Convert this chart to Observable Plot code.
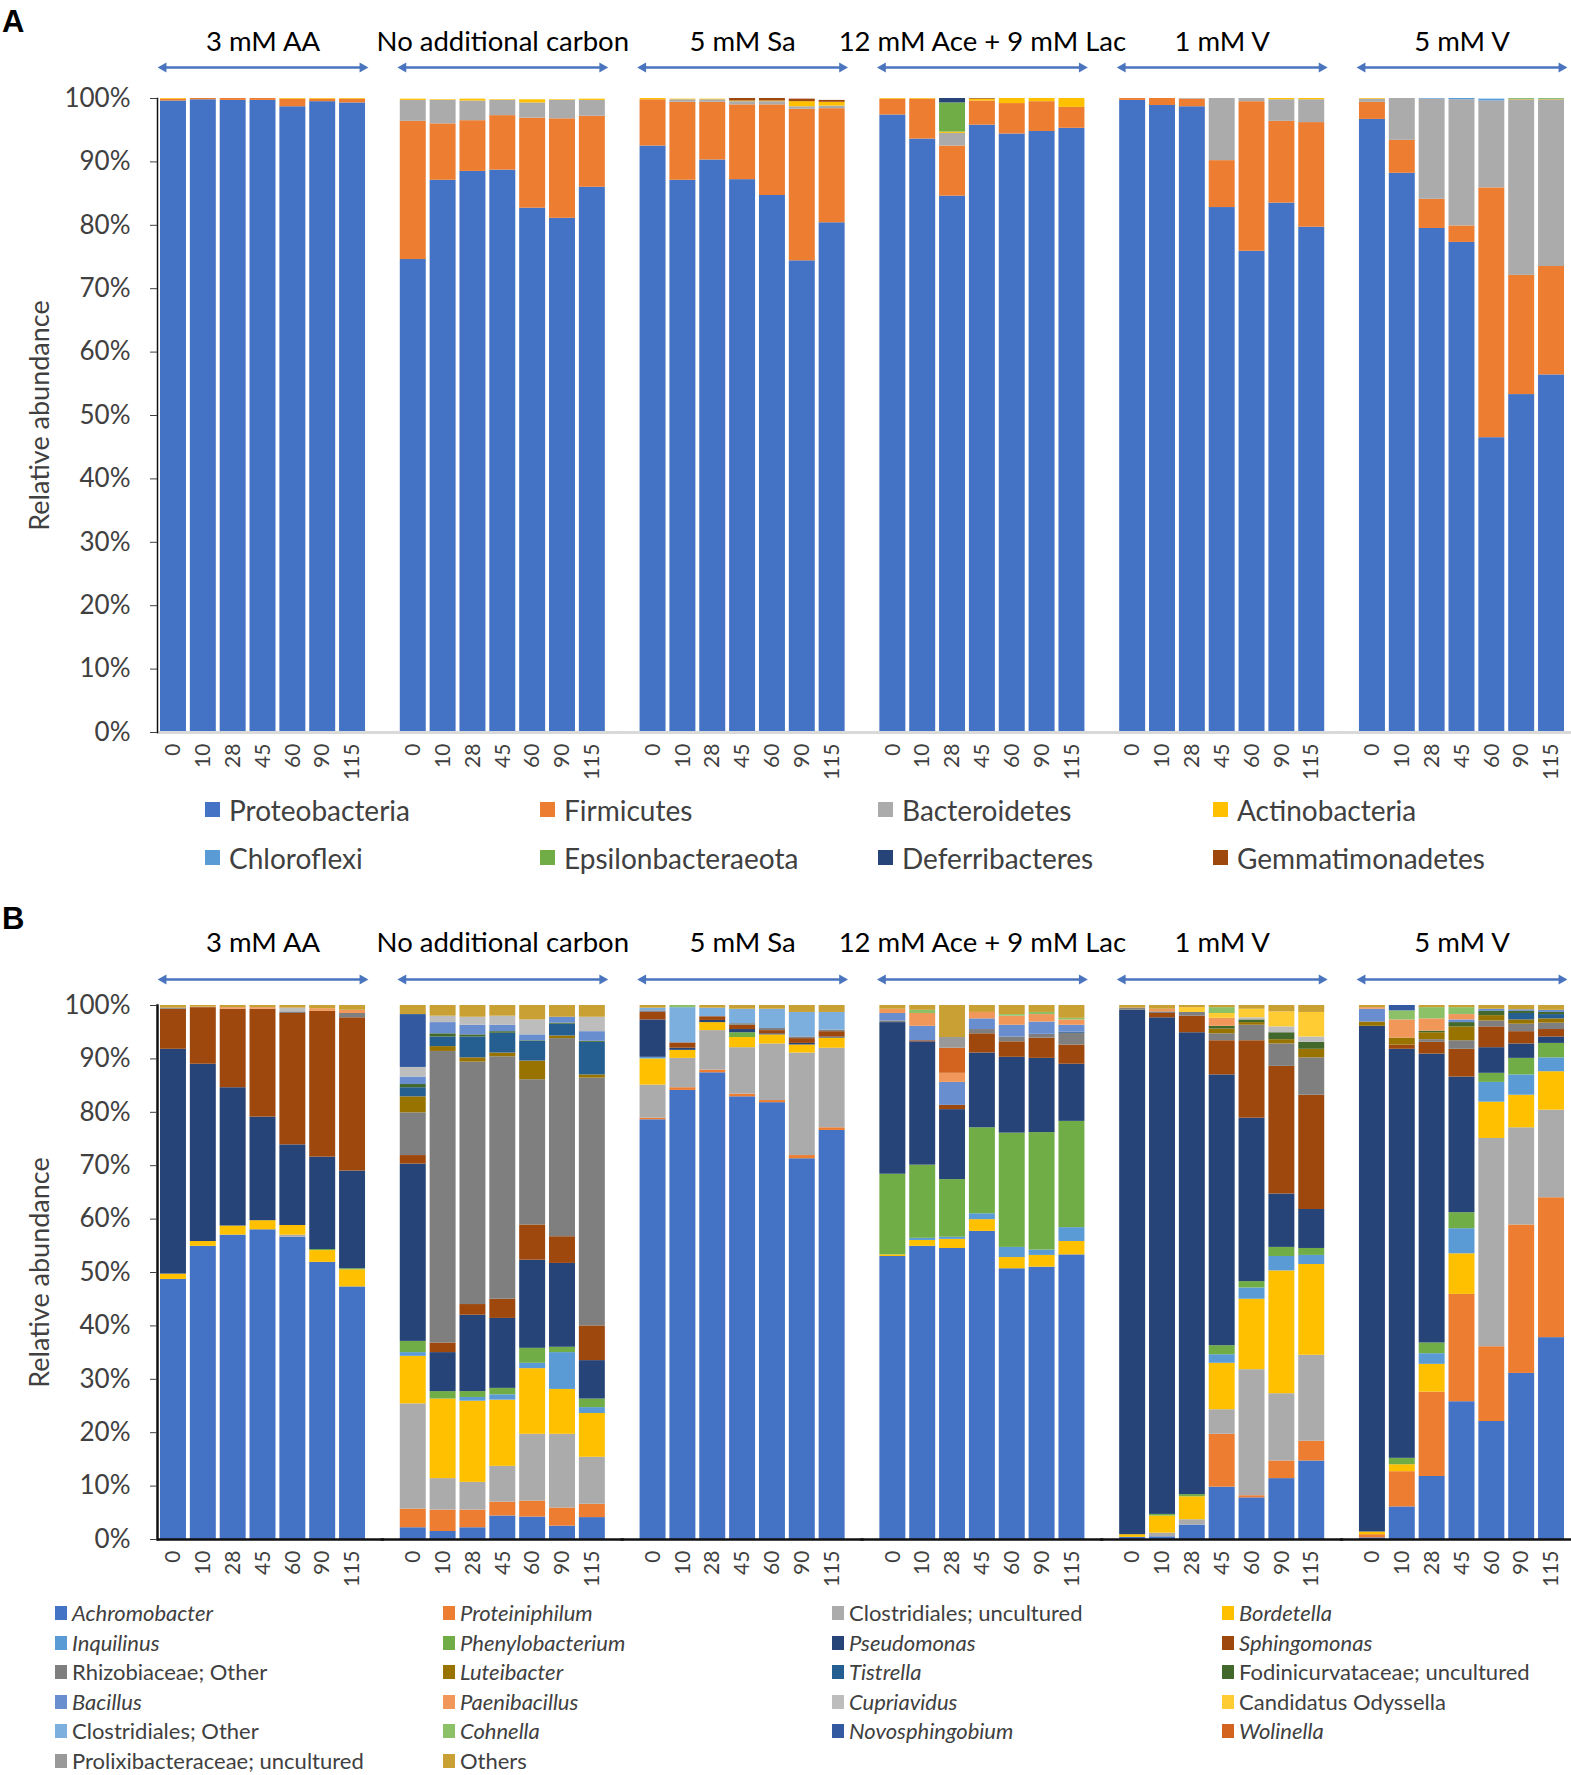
<!DOCTYPE html>
<html><head><meta charset="utf-8">
<script src="https://cdn.jsdelivr.net/npm/d3@7"></script>
<script src="https://cdn.jsdelivr.net/npm/@observablehq/plot@0.6"></script>
<style>
html,body{margin:0;padding:0;background:#fff;overflow:hidden;}
#root{position:relative;width:1571px;height:1775px;font-family:Lato,"Open Sans",sans-serif;}
.abs{position:absolute;left:0;}
.plabel{position:absolute;font-family:"Liberation Sans",Arial,sans-serif;font-weight:bold;font-size:31px;line-height:31px;color:#000;}
.leg{position:absolute;display:flex;align-items:center;white-space:nowrap;color:#404040;}
.sw{display:inline-block;flex:none;}
</style></head><body><div id="root"></div>
<script>
// ---------- shared categories ----------
const groups = ["3 mM AA","No additional carbon","5 mM Sa","12 mM Ace + 9 mM Lac","1 mM V","5 mM V"];
const days = ["0","10","28","45","60","90","115"];
const yTicks = [0,10,20,30,40,50,60,70,80,90,100];

// ---------- Panel A: phylum relative abundance (%), 6 groups x 7 days ----------
const phyla = ["Proteobacteria","Firmicutes","Bacteroidetes","Actinobacteria","Chloroflexi","Epsilonbacteraeota","Deferribacteres","Gemmatimonadetes"];
const proteobacteria = [99.6,99.8,99.7,99.7,98.7,99.5,99.3, 74.6,87.1,88.5,88.7,82.7,81.1,86.0, 92.5,87.1,90.3,87.2,84.7,74.4,80.4, 97.4,93.6,84.6,95.8,94.4,94.8,95.3, 99.7,98.9,98.7,82.8,75.9,83.5,79.7, 96.7,88.2,79.5,77.3,46.5,53.3,56.4];
const firmicutes     = [0.3,0.2,0.3,0.3,1.2,0.4,0.6, 21.8,8.9,8.0,8.6,14.2,15.7,11.2, 7.3,12.3,9.1,11.8,14.3,23.9,18.0, 2.5,6.3,7.9,3.8,4.8,4.7,3.3, 0.3,1.1,1.2,7.4,23.6,12.9,16.5, 2.7,5.2,4.6,2.6,39.4,18.8,17.1];
const bacteroidetes  = [0,0,0,0,0,0,0, 3.3,3.7,3.1,2.4,2.4,2.9,2.5, 0,0.4,0.4,0.5,0.5,0.4,0.4, 0,0,2.0,0,0,0,0, 0,0,0.1,9.8,0.5,3.4,3.6, 0.5,6.6,15.8,19.9,13.7,27.6,26.2];
const actinobacteria = [0.1,0,0,0,0.1,0.1,0.1, 0.2,0.1,0.3,0.1,0.5,0.1,0.2, 0.2,0.1,0.1,0.1,0.1,0.8,0.6, 0.1,0.1,0.2,0.3,0.8,0.5,1.4, 0,0,0,0,0,0.2,0.2, 0.1,0,0,0,0,0.1,0.1];
const chloroflexi    = [0,0,0,0,0,0,0, 0,0,0,0,0,0,0, 0,0,0,0,0,0,0, 0,0,0,0,0,0,0, 0,0,0,0,0,0,0, 0,0,0.1,0.2,0.3,0.1,0.1];
const epsilonbacteraeota = [0,0,0,0,0,0,0, 0,0,0,0,0,0,0, 0,0,0,0,0,0,0, 0,0,4.6,0,0,0,0, 0,0,0,0,0,0,0, 0,0,0,0,0,0.1,0.1];
const deferribacteres = [0,0,0,0,0,0,0, 0,0,0,0,0,0,0, 0,0,0,0,0,0,0, 0,0,0.7,0,0,0,0, 0,0,0,0,0,0,0, 0,0,0,0,0,0,0];
const gemmatimonadetes = [0,0,0,0,0,0,0, 0,0,0,0,0,0,0, 0,0,0,0.4,0.4,0.4,0.3, 0,0,0,0.1,0,0,0, 0,0,0,0,0,0,0, 0,0,0,0,0,0,0];
const phylaValues = [proteobacteria,firmicutes,bacteroidetes,actinobacteria,chloroflexi,epsilonbacteraeota,deferribacteres,gemmatimonadetes];

// ---------- Panel B: genus level, cumulative top of each segment (%) read per bar ----------
const taxaCodes = ["A","Pr","Cu","Bo","In","Ph","Ps","Sp","Rh","Lu","Ti","Fo","Ba","Pa","Cp","Od","Co","Cn","No","Wo","Pl","Ot"];
const taxaNames = ["Achromobacter","Proteiniphilum","Clostridiales; uncultured","Bordetella","Inquilinus","Phenylobacterium","Pseudomonas","Sphingomonas","Rhizobiaceae; Other","Luteibacter","Tistrella","Fodinicurvataceae; uncultured","Bacillus","Paenibacillus","Cupriavidus","Candidatus Odyssella","Clostridiales; Other","Cohnella","Novosphingobium","Wolinella","Prolixibacteraceae; uncultured","Others"];
const cumAA = [
 "A 48.7, Bo 49.7, Ps 91.8, Sp 99.3, Rh 99.5, Ot 100",
 "A 54.9, Bo 55.8, Ps 89.0, Sp 99.6, Pa 99.7, Ot 100",
 "A 57.0, Bo 58.7, Ps 84.6, Sp 99.3, Pa 99.6, Ot 100",
 "A 58.0, Bo 59.7, Ps 79.1, Sp 99.3, Pa 99.6, Ot 100",
 "A 56.6, Cu 57.0, Bo 58.8, Ps 73.9, Sp 98.5, Rh 98.8, Cp 99.5, Ot 100",
 "A 51.9, Bo 54.1, Ph 54.3, Ps 71.6, Sp 98.9, Pa 99.4, Ot 100",
 "A 47.3, Bo 50.5, Ph 50.7, Ps 69.0, Sp 97.7, Rh 98.5, Pa 99.1, Ot 100"];
const cumNAC = [
 "A 2.2, Pr 5.7, Cu 25.4, Bo 34.3, In 35.0, Ph 37.1, Ps 70.3, Sp 71.9, Rh 79.9, Lu 82.9, Ti 84.6, Fo 85.2, Ba 86.6, Cp 88.4, No 98.3, Ot 100",
 "A 1.5, Pr 5.5, Cu 11.4, Bo 26.3, Ph 27.7, Ps 35.0, Sp 36.8, Rh 91.4, Lu 92.3, Ti 94.1, Fo 94.7, Ba 96.8, Cp 98.0, Ot 100",
 "A 2.2, Pr 5.5, Cu 10.7, Bo 25.9, In 26.6, Ph 27.7, Ps 42.0, Sp 44.0, Rh 89.4, Lu 90.2, Ti 94.1, Fo 94.5, Ba 96.3, Cp 97.8, Ot 100",
 "A 4.4, Pr 7.0, Cu 13.7, Bo 26.1, In 27.1, Ph 28.3, Ps 41.4, Sp 45.0, Rh 90.4, Lu 91.1, Ti 94.8, Fo 95.1, Ba 96.3, Cp 98.0, Ot 100",
 "A 4.2, Pr 7.2, Cu 19.7, Bo 32.0, In 33.0, Ph 35.8, Ps 52.3, Sp 58.9, Rh 86.1, Lu 89.6, Ti 93.3, Fo 93.4, Ba 94.5, Cp 97.3, Ot 100",
 "A 2.5, Pr 5.9, Cu 19.7, Bo 28.1, In 35.0, Ph 36.0, Ps 51.7, Sp 56.7, Rh 93.8, Lu 94.3, Ti 96.5, Fo 96.7, Ba 97.8, Ot 100",
 "A 4.1, Pr 6.6, Cu 15.4, Bo 23.6, In 24.7, Ph 26.3, Ps 33.5, Sp 40.0, Rh 86.4, Lu 87.0, Ti 93.1, Fo 93.3, Ba 95.1, Cp 97.8, Ot 100"];
const cumSa = [
 "A 78.6, Pr 78.9, Cu 85.1, Bo 90.0, In 90.3, Ps 97.3, Sp 98.7, Rh 99.0, Co 99.5, Ot 100",
 "A 84.1, Pr 84.6, Cu 90.1, Bo 91.6, Ps 92.0, Sp 93.0, Co 99.6, Cn 100",
 "A 87.4, Pr 87.9, Cu 95.3, Bo 96.8, Ps 97.2, Sp 97.9, Co 99.5, Ot 100",
 "A 82.9, Pr 83.4, Cu 92.1, Bo 94.0, Ph 94.9, Ps 95.5, Sp 96.3, Rh 96.6, Co 99.3, Ot 100",
 "A 81.8, Pr 82.2, Cu 92.8, Bo 94.5, Ps 94.7, Sp 95.3, Rh 95.7, Co 99.3, Ot 100",
 "A 71.3, Pr 71.9, Cu 91.1, Bo 92.6, Ps 92.9, Sp 93.8, Rh 94.1, Co 98.7, Ot 100",
 "A 76.6, Pr 77.1, Cu 92.0, Bo 93.9, Ps 94.1, Sp 95.1, Rh 95.4, Co 98.7, Ot 100"];
const cumAceLac = [
 "A 53.0, Bo 53.3, Ph 68.4, Ps 96.8, Rh 97.1, Ba 98.5, Pa 99.3, Ot 100",
 "A 54.9, Bo 56.0, In 56.4, Ph 70.1, Ps 93.2, Sp 93.4, Ba 96.1, Pa 98.5, Cn 99.1, Ot 100",
 "A 54.5, Bo 56.2, In 56.6, Ph 67.4, Ps 80.5, Sp 81.3, Ba 85.6, Pa 87.3, Wo 92.0, Pl 94.0, Ot 100",
 "A 57.7, Bo 59.9, In 61.0, Ph 77.1, Ps 91.1, Sp 94.7, Rh 95.5, Ba 97.5, Pa 98.7, Ot 100",
 "A 50.7, Bo 52.8, In 54.7, Ph 76.1, Ps 90.3, Sp 93.2, Rh 94.1, Ba 96.3, Pa 98.0, Cn 98.3, Ot 100",
 "A 51.0, Bo 53.2, In 54.2, Ph 76.2, Ps 90.1, Sp 93.9, Rh 94.6, Ba 96.9, Pa 98.3, Cn 98.7, Ot 100",
 "A 53.3, Bo 55.8, In 58.4, Ph 78.3, Ps 89.0, Sp 92.6, Rh 94.8, Ti 95.0, Ba 96.3, Pa 97.3, Cn 97.6, Ot 100"];
const cumV1 = [
 "A 0.4, Bo 0.9, Ps 99.1, Rh 99.5, Ot 100",
 "A 0.5, Cu 1.2, Bo 4.4, Ph 4.7, Ps 97.7, Sp 98.5, Rh 98.8, Pa 99.3, Ot 100",
 "A 2.7, Cu 3.7, Bo 8.0, Ph 8.4, Ps 94.9, Sp 98.0, Rh 98.7, Od 99.6, Ot 100",
 "A 9.8, Pr 19.7, Cu 24.3, Bo 33.0, In 34.6, Ph 36.3, Ps 87.0, Sp 93.4, Rh 94.7, Lu 95.6, Fo 96.1, Pa 97.6, Od 98.5, Cn 99.6, Ot 100",
 "A 7.8, Pr 8.2, Cu 31.8, Bo 45.0, In 47.1, Ph 48.3, Ps 78.9, Sp 93.4, Rh 96.3, Lu 96.8, Fo 97.3, Cp 97.7, Od 99.3, Ot 100",
 "A 11.4, Pr 14.7, Cu 27.3, Bo 50.3, In 53.0, Ph 54.7, Ps 64.7, Sp 88.6, Rh 92.8, Lu 93.6, Fo 94.9, Cp 96.0, Od 98.8, Ot 100",
 "A 14.7, Pr 18.4, Cu 34.5, Bo 51.5, In 53.2, Ph 54.5, Ps 61.8, Sp 83.2, Rh 90.2, Lu 91.8, Fo 93.1, Cp 94.1, Od 98.7, Ot 100"];
const cumV5 = [
 "A 0.3, Pr 0.9, Bo 1.4, Ps 96.1, Lu 96.9, Ba 99.3, Pa 99.6, Ot 100",
 "A 6.1, Pr 12.7, Bo 14.0, Ph 15.2, Ps 91.8, Sp 92.6, Lu 93.9, Pa 97.3, Cn 99.0, No 100",
 "A 11.8, Pr 27.6, Bo 32.8, In 34.8, Ph 36.8, Ps 90.9, Sp 93.1, Rh 93.6, Lu 94.9, Fo 95.2, Pa 97.5, Cn 99.6, Ot 100",
 "A 25.8, Pr 45.9, Bo 53.5, In 58.2, Ph 61.2, Ps 86.6, Sp 91.8, Rh 93.4, Lu 96.0, Fo 96.8, Ba 97.3, Pa 98.3, Cn 99.6, Ot 100",
 "A 22.1, Pr 36.1, Cu 75.1, Bo 81.9, In 85.6, Ph 87.3, Ps 92.1, Sp 96.0, Rh 97.1, Lu 98.1, Fo 98.9, Ba 99.3, Ot 100",
 "A 31.1, Pr 58.9, Cu 77.1, Bo 83.2, In 87.0, Ph 90.1, Ps 92.8, Sp 95.1, Rh 96.5, Lu 97.3, Ti 98.5, Fo 98.9, Ba 99.2, Ot 100",
 "A 37.8, Pr 64.0, Cu 80.4, Bo 87.6, In 90.2, Ph 92.9, Ps 94.1, Sp 95.5, Rh 96.7, Lu 97.5, Ti 98.3, Fo 98.7, Ba 99.1, Ot 100"];
const cumB = [cumAA, cumNAC, cumSa, cumAceLac, cumV1, cumV5];

// ---------- styles (kept apart from data) ----------
const phylaColors = ["#4472C4","#ED7D31","#ABABAB","#FFC000","#5B9BD5","#70AD47","#264478","#9E480E"];
const taxaColors = ["#4472C4","#ED7D31","#ABABAB","#FFC000","#5B9BD5","#70AD47","#264478","#9E480E","#7F7F7F","#997300","#255E91","#43682B","#698ED0","#F1975A","#BDBDBD","#FFCD33","#7CAFDD","#8CC168","#335AA1","#D2641F","#999999","#C9A033"];
const uprightNames = ["Clostridiales; uncultured","Rhizobiaceae; Other","Fodinicurvataceae; uncultured","Candidatus Odyssella","Clostridiales; Other","Prolixibacteraceae; uncultured","Others"];
const arrowColor = "#4A74BE";
const FONT = "Lato, 'Open Sans', sans-serif";

// ---------- build tidy rows ----------
const rowsA = [];
phyla.forEach((p, pi) => {
  groups.forEach((g, gi) => days.forEach((d, di) => {
    rowsA.push({group: g, day: d, taxon: p, value: phylaValues[pi][gi * 7 + di]});
  }));
});
const rowsB = [];
cumB.forEach((bars, gi) => bars.forEach((s, di) => {
  let prev = 0;
  s.split(",").forEach(tok => {
    const [code, v] = tok.trim().split(/\s+/);
    const top = +v;
    rowsB.push({group: groups[gi], day: days[di], taxon: taxaNames[taxaCodes.indexOf(code)], value: Math.max(0, top - prev)});
    prev = top;
  });
}));

function panel(o) {
  return Plot.plot({
    width: 1571, height: o.height,
    marginLeft: 157, marginRight: 4, marginTop: o.marginTop, marginBottom: o.marginBottom,
    style: {fontFamily: FONT, color: "#404040", background: "transparent", overflow: "visible"},
    fx: {domain: groups, paddingInner: 0.12, paddingOuter: 0, round: false, axis: null, label: null},
    x: {domain: days, paddingInner: 0.13, paddingOuter: 0.1, round: false, axis: null},
    y: {domain: [0, 100], axis: null},
    color: {domain: o.domain, range: o.range},
    marks: [
      Plot.barY(o.rows, {fx: "group", x: "day", y: "value", fill: "taxon"}),
      Plot.ruleY([groups[0]], {fx: d => d, y: () => 0, stroke: o.baseColor, strokeWidth: o.baseWidth, insetRight: -16}),
      Plot.ruleY(groups.slice(1), {fx: d => d, y: () => 0, stroke: o.baseColor, strokeWidth: o.baseWidth, insetLeft: -16, insetRight: -16}),
      Plot.frame({anchor: "left", facetAnchor: "left", stroke: "#111", strokeWidth: o.axisWidth}),
      Plot.axisY({ticks: yTicks, tickFormat: d => d + "%", tickSize: 7, tickPadding: 20, fontSize: 26, label: null}),
      Plot.text(["Relative abundance"], {frameAnchor: "left", facetAnchor: "left", rotate: -90, textAnchor: "middle", lineAnchor: "middle", dx: -117, fontSize: 27, fill: "#404040", text: d => d}),
      Plot.axisX({tickSize: 0, tickRotate: -90, tickPadding: 11, fontSize: 21, label: null}),
      Plot.text(groups, {fx: d => d, text: d => d, frameAnchor: "top", lineAnchor: "middle", dy: o.titleDy, fontSize: 27.5, fill: "#000"}),
      Plot.ruleY(groups, {fx: d => d, y: () => 100, dy: o.arrowDy, stroke: arrowColor, strokeWidth: 2.5, insetLeft: 6, insetRight: 6}),
      Plot.dot(groups, {fx: d => d, frameAnchor: "top-left", dx: 6, dy: o.arrowDy, symbol: "triangle", rotate: -90, r: 3.8, fill: arrowColor, stroke: "none"}),
      Plot.dot(groups, {fx: d => d, frameAnchor: "top-right", dx: -6, dy: o.arrowDy, symbol: "triangle", rotate: 90, r: 3.8, fill: arrowColor, stroke: "none"})
    ]
  });
}

const root = document.getElementById("root");
function place(el, top) { el.classList.add("abs"); el.style.top = top + "px"; root.appendChild(el); }

const svgA = panel({rows: rowsA, domain: phyla, range: phylaColors, height: 790, marginTop: 98, marginBottom: 58,
  titleDy: -56, arrowDy: -31, baseColor: "#D9D9D9", baseWidth: 3, axisWidth: 1.5});
place(svgA, 0);
const svgB = panel({rows: rowsB, domain: taxaNames, range: taxaColors, height: 720, marginTop: 125, marginBottom: 61,
  titleDy: -62, arrowDy: -26, baseColor: "#111", baseWidth: 2.5, axisWidth: 2.5});
place(svgB, 880);

function label(t, left, top) {
  const d = document.createElement("div"); d.className = "plabel"; d.textContent = t;
  d.style.left = left + "px"; d.style.top = top + "px"; root.appendChild(d);
}
label("A", 2, 6);
label("B", 2, 903);

function legend(names, colors, cols, rowTops, fontSize, swW, swH, gap, italicFn) {
  names.forEach((n, i) => {
    const c = i % 4, r = Math.floor(i / 4);
    const d = document.createElement("div"); d.className = "leg";
    d.style.left = cols[c] + "px";
    d.style.top = (rowTops[r] - fontSize * 0.7) + "px";
    d.style.height = (fontSize * 1.4) + "px";
    d.style.fontSize = fontSize + "px";
    const sw = document.createElement("span"); sw.className = "sw";
    sw.style.width = swW + "px"; sw.style.height = swH + "px"; sw.style.background = colors[i]; sw.style.marginRight = gap + "px";
    const tx = document.createElement("span"); tx.textContent = n;
    if (italicFn(n)) tx.style.fontStyle = "italic";
    d.appendChild(sw); d.appendChild(tx); root.appendChild(d);
  });
}
legend(phyla, phylaColors, [205, 540, 878, 1213], [810, 858], 28, 15, 15, 9, () => false);
legend(taxaNames, taxaColors, [55, 443, 832, 1222], [1613, 1643, 1672, 1702, 1731, 1761], 22, 12, 14, 5, n => !uprightNames.includes(n));
</script></body></html>
